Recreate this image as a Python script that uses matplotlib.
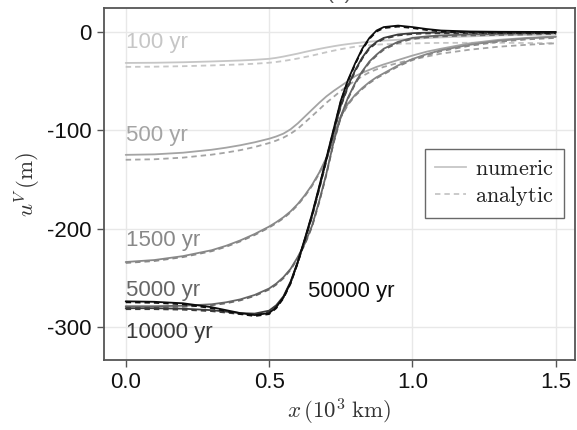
import matplotlib
matplotlib.use("Agg")
import matplotlib.pyplot as plt
from matplotlib.lines import Line2D

plt.rcParams['font.family'] = ['Liberation Sans', 'DejaVu Sans']
plt.rcParams['mathtext.fontset'] = 'cm'
plt.rcParams['axes.unicode_minus'] = False

# ---- data (x in 10^3 km, u^V in m) ----
x = [0.0, 0.1, 0.2, 0.3, 0.35, 0.4, 0.45, 0.5, 0.525, 0.55, 0.575, 0.6, 0.625, 0.65, 0.675, 0.7,
     0.725, 0.75, 0.775, 0.8, 0.825, 0.85, 0.875, 0.9, 0.95, 1.0, 1.05, 1.1, 1.2, 1.3, 1.4, 1.5]

times = ["100 yr", "500 yr", "1500 yr", "5000 yr", "10000 yr", "50000 yr"]

numeric = {
    "100 yr":   [-31.5, -31.3, -30.8, -30.0, -29.5, -29.0, -28.3, -27.3, -26.3, -25.0, -23.5, -22.0, -20.3, -18.7, -17.2, -15.8,
                 -14.5, -13.3, -12.3, -11.4, -10.6, -9.9, -9.3, -8.8, -7.9, -7.0, -6.2, -5.5, -4.5, -3.5, -3.0, -2.5],
    "500 yr":   [-125.0, -124.5, -122.8, -119.8, -117.7, -115.2, -112.2, -108.6, -106.3, -103.4, -99.0, -93.0, -86.0, -79.0, -72.0, -65.5,
                 -60.0, -55.0, -50.0, -45.0, -41.5, -38.5, -35.5, -33.0, -28.5, -24.0, -20.0, -17.0, -11.5, -8.0, -6.0, -4.5],
    "1500 yr":  [-234.0, -232.0, -228.0, -222.0, -217.5, -212.0, -205.5, -198.0, -193.5, -188.5, -182.5, -175.0, -166.0, -155.5, -143.0, -128.0,
                 -107.0, -86.0, -73.0, -64.0, -57.0, -51.0, -46.0, -42.0, -34.0, -27.5, -22.5, -18.5, -13.0, -9.0, -6.5, -5.0],
    "5000 yr":  [-279.0, -279.0, -278.5, -277.0, -275.0, -272.0, -267.5, -261.0, -256.0, -249.5, -241.0, -229.0, -215.0, -197.0, -172.0, -144.0,
                 -112.0, -86.0, -67.0, -52.0, -40.0, -30.0, -23.0, -17.0, -10.0, -6.0, -4.5, -3.5, -2.5, -2.0, -1.5, -1.0],
    "10000 yr": [-281.0, -281.0, -281.5, -283.0, -284.5, -286.0, -286.5, -283.5, -278.0, -269.0, -254.0, -234.0, -211.0, -187.0, -159.0, -130.0,
                 -102.0, -75.0, -55.0, -39.0, -26.0, -16.0, -10.0, -6.0, -2.5, -1.2, -0.7, -0.5, -0.3, -0.2, -0.1, 0.0],
    "50000 yr": [-274.0, -274.5, -276.0, -280.0, -283.0, -286.0, -288.0, -286.0, -280.0, -270.0, -255.0, -234.0, -210.0, -185.0, -157.0, -128.0,
                 -99.0, -70.0, -49.0, -32.0, -17.0, -6.0, 1.5, 5.0, 6.5, 5.0, 3.0, 1.5, 0.5, 0.2, 0.1, 0.0],
}

analytic = {
    "100 yr":   [-35.5, -35.3, -34.8, -34.0, -33.5, -33.0, -32.3, -31.3, -30.5, -29.5, -28.3, -27.0, -25.5, -24.0, -22.3, -20.6,
                 -19.0, -17.5, -16.2, -15.0, -14.1, -13.4, -12.9, -12.5, -12.0, -11.6, -11.3, -11.1, -11.0, -11.0, -11.2, -11.5],
    "500 yr":   [-130.0, -129.5, -127.8, -124.8, -122.7, -120.2, -117.0, -113.0, -110.5, -107.5, -103.5, -98.5, -92.0, -85.5, -78.8, -72.0,
                 -66.0, -60.0, -54.5, -49.5, -45.0, -41.0, -38.0, -35.5, -31.5, -28.0, -25.0, -22.0, -18.0, -15.0, -13.0, -11.5],
    "1500 yr":  [-235.0, -233.0, -229.0, -223.0, -218.5, -213.0, -206.5, -199.0, -194.5, -189.5, -183.5, -176.0, -167.0, -156.5, -144.0, -129.0,
                 -108.0, -87.0, -74.0, -65.0, -58.0, -52.0, -47.0, -43.0, -35.0, -28.5, -23.5, -19.5, -14.0, -10.0, -7.5, -6.0],
    "5000 yr":  [-280.0, -280.0, -279.5, -278.0, -276.0, -273.0, -268.5, -262.0, -257.0, -250.5, -242.0, -230.0, -216.0, -198.0, -173.0, -145.0,
                 -113.0, -87.0, -68.0, -53.0, -41.0, -31.0, -24.0, -18.0, -11.0, -7.0, -5.5, -4.5, -3.5, -3.0, -2.5, -2.0],
    "10000 yr": [-282.0, -282.0, -282.5, -284.0, -285.5, -287.0, -287.5, -284.5, -279.0, -270.0, -255.0, -235.0, -212.0, -188.0, -160.0, -131.0,
                 -103.0, -76.0, -56.0, -40.0, -27.0, -17.0, -11.0, -7.0, -3.5, -2.0, -1.5, -1.3, -1.1, -1.0, -1.0, -1.0],
    "50000 yr": [-275.0, -275.5, -277.0, -281.0, -284.0, -287.0, -289.0, -287.0, -281.0, -271.0, -256.0, -235.0, -211.0, -186.0, -158.0, -129.0,
                 -100.0, -71.0, -50.0, -33.0, -18.0, -7.0, 0.5, 4.0, 5.5, 4.0, 2.0, 0.5, -0.5, -0.8, -0.9, -1.0],
}

colors = {"100 yr": "#c6c6c6", "500 yr": "#a4a4a4", "1500 yr": "#888888",
          "5000 yr": "#666666", "10000 yr": "#3a3a3a", "50000 yr": "#0d0d0d"}

# label positions (data coords, baseline)
label_pos = {"100 yr": (0.0, -16.6), "500 yr": (0.0, -110.6), "1500 yr": (0.0, -217.7),
             "5000 yr": (0.0, -268.6), "10000 yr": (0.0, -311.6), "50000 yr": (0.637, -269.3)}

xticks = [0.0, 0.5, 1.0, 1.5]
xticklabels = ["0.0", "0.5", "1.0", "1.5"]
yticks = [0, -100, -200, -300]
yticklabels = ["0", "-100", "-200", "-300"]

W, H = 577, 430
fig = plt.figure(figsize=(W / 100, H / 100), dpi=100)
ax = fig.add_axes([104 / W, 1 - 360 / H, (575 - 104) / W, (360 - 8) / H])

dash = (0, (3.0, 2.2))
for t in times:
    ax.plot(x, numeric[t], color=colors[t], lw=1.3, solid_capstyle='round',
            solid_joinstyle='round', zorder=3)
    ax.plot(x, analytic[t], color=colors[t], lw=1.3, ls=dash, zorder=3)
    lx, ly = label_pos[t]
    ax.text(lx, ly, t, color=colors[t], fontsize=16, va='baseline', ha='left', zorder=4)

ax.set_xlim(-0.0757, 1.567)
ax.set_ylim(-333.7, 24.4)
ax.set_xticks(xticks)
ax.set_xticklabels(xticklabels)
ax.set_yticks(yticks)
ax.set_yticklabels(yticklabels)
ax.tick_params(axis='both', labelsize=16, length=5, width=1.0, color='#555555',
               pad=4, direction='out', labelcolor='#111111')
ax.grid(True, color='#e8e8e8', lw=1.0, zorder=0)
ax.set_axisbelow(True)
for s in ax.spines.values():
    s.set_color('#555555')
    s.set_linewidth(1.3)

ax.set_xlabel(r'$x\,(10^3\;\mathrm{km})$', fontsize=16.5, color='#333333', labelpad=2)
ax.set_ylabel(r'$u^V\,(\mathrm{m})$', fontsize=16.5, color='#333333', labelpad=3)

# legend
handles = [Line2D([], [], color='#c6c6c6', lw=1.3),
           Line2D([], [], color='#c6c6c6', lw=1.3, ls=dash)]
leg = ax.legend(handles, [r'$\mathrm{numeric}$', r'$\mathrm{analytic}$'],
                loc='upper right', bbox_to_anchor=(0.977, 0.60), fontsize=16,
                frameon=True, fancybox=False, handlelength=1.4, handletextpad=0.4,
                borderpad=0.45, labelspacing=0.2, borderaxespad=0.0)
leg.get_frame().set_edgecolor('#444444')
leg.get_frame().set_linewidth(1.0)
for txt in leg.get_texts():
    txt.set_color('#222222')

# title, mostly cropped at the top edge as in the reference
fig.text(0.5 * (104 + 575) / W, 1 - 3 / H, '(a)', fontsize=15, ha='center', va='bottom',
         color='#555555')

fig.savefig('out.png', dpi=100)
